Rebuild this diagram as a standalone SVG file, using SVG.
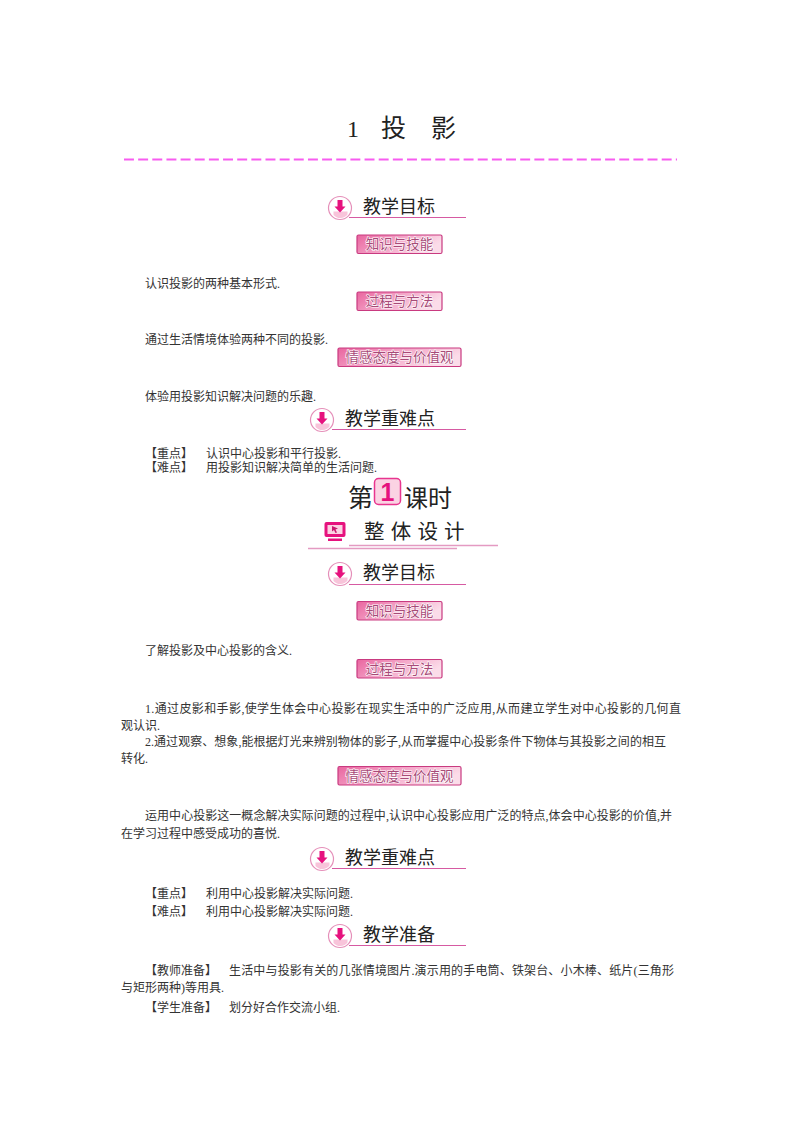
<svg xmlns="http://www.w3.org/2000/svg" xmlns:xlink="http://www.w3.org/1999/xlink" width="800" height="1132" viewBox="0 0 800 1132">
<style>
text{font-family:"Liberation Serif","Noto Sans CJK SC",serif;fill:#222}
.b{font-family:"Liberation Serif","Noto Sans CJK SC",sans-serif;font-size:12px;fill:#333;transform:translateY(.8px)}
.h{font-family:"Noto Sans CJK SC",sans-serif;font-size:18px;fill:#222;transform:translateY(1px)}
.c{font-family:"Noto Sans CJK SC",sans-serif}
.t{font-family:"Noto Sans CJK SC",sans-serif;font-size:13.500px;fill:#a84a78;text-anchor:middle;stroke:#fff;stroke-width:1.200px;paint-order:stroke}
.p{fill:url(#g);stroke:#c93a80;stroke-width:1.200}
.u{stroke:#d65aa2;stroke-width:1.200;fill:none}
</style>
<defs>
<linearGradient id="g" x1="0" y1="0" x2="1" y2=".35"><stop offset="0" stop-color="#e9659f"/><stop offset=".55" stop-color="#f4a9ca"/><stop offset="1" stop-color="#fbdce9"/></linearGradient>
<g id="ic">
<circle cx="12" cy="12" r="11.500" fill="#fff" stroke="#e58fb9" stroke-width="1.200"/>
<path d="M5.500 15.500h14v3a9 9 0 0 1-14 .5z" fill="#f8c4da"/>
<path d="M9.500 4h5v6.500h3l-5.500 6-5.500-6h3z" fill="#e6127e"/>
</g>
</defs>
<g id="title"><text x="347" y="137" font-size="24">1</text><text class="c" x="381" y="137" font-size="25">投</text><text class="c" x="431" y="137" font-size="25">影</text></g>
<path id="rule" d="M124 159.500H677" stroke="#f75cf0" stroke-width="1.800" stroke-dasharray="9.950 4.200" fill="none"/>

<g id="sec1"><use xlink:href="#ic" href="#ic" x="328" y="196"/><path class="u" d="M349 217.500H466"/><text class="h" x="363" y="212">教学目标</text></g>
<g id="tag1"><rect class="p" x="357" y="235" width="85" height="18.500" rx="1.500"/><text class="t" x="399.500" y="249">知识与技能</text></g>
<text class="b" id="p1" x="145" y="287">认识投影的两种基本形式.</text>
<g id="tag2"><rect class="p" x="357" y="292" width="85" height="18.500" rx="1.500"/><text class="t" x="399.500" y="306">过程与方法</text></g>
<text class="b" id="p2" x="145" y="343">通过生活情境体验两种不同的投影.</text>
<g id="tag3"><rect class="p" x="338" y="348" width="123" height="18.500" rx="1.500"/><text class="t" x="399.500" y="362">情感态度与价值观</text></g>
<text class="b" id="p3" x="145" y="400">体验用投影知识解决问题的乐趣.</text>
<g id="sec2"><use xlink:href="#ic" href="#ic" x="310" y="408"/><path class="u" d="M332 429.500H466"/><text class="h" x="345" y="424">教学重难点</text></g>
<g id="kp1"><text class="b" x="145" y="457">【重点】</text><text class="b" x="206" y="457">认识中心投影和平行投影.</text><text class="b" x="145" y="471">【难点】</text><text class="b" x="206" y="471">用投影知识解决简单的生活问题.</text></g>

<g id="lesson"><text class="c" x="348" y="507" font-size="25">第</text><rect x="374.500" y="478.500" width="26" height="26" rx="4" fill="#fbd3e3" stroke="#e8358f" stroke-width="1.500"/><text x="387.500" y="501" text-anchor="middle" style="font-family:'Liberation Sans',sans-serif;font-size:25px;font-weight:bold;fill:#e6127e">1</text><text class="c" x="404" y="507" font-size="24">课时</text></g>
<g id="design"><rect x="324.500" y="522" width="21" height="15" rx="2" fill="#e6127e"/><rect x="327.500" y="525" width="15" height="9" fill="#fbd3e3"/><path d="M332 526l6 2.500-2.500 1 1.500 3-1.500.5-1.500-3-2 1.500z" fill="#c9186f"/><rect x="328" y="538.500" width="14" height="2.500" fill="#e6127e"/><text class="c" x="364" y="539" font-size="20.500" letter-spacing="6.200">整体设计</text><path d="M349 545.500H498" stroke="#e49ac2" stroke-width="1.500"/><path d="M308 548.500H457" stroke="#e49ac2" stroke-width="1.500"/></g>

<g id="sec3"><use xlink:href="#ic" href="#ic" x="328" y="562"/><path class="u" d="M349 584.500H466"/><text class="h" x="363" y="578">教学目标</text></g>
<g id="tag4"><rect class="p" x="357" y="601.500" width="85" height="18.500" rx="1.500"/><text class="t" x="399.500" y="616">知识与技能</text></g>
<text class="b" id="p4" x="145" y="654">了解投影及中心投影的含义.</text>
<g id="tag5"><rect class="p" x="357" y="659.500" width="85" height="18.500" rx="1.500"/><text class="t" x="399.500" y="674">过程与方法</text></g>
<g id="p5"><text class="b" x="145" y="712" textLength="536">1.通过皮影和手影,使学生体会中心投影在现实生活中的广泛应用,从而建立学生对中心投影的几何直</text><text class="b" x="121" y="729">观认识.</text><text class="b" x="145" y="745" textLength="521">2.通过观察、想象,能根据灯光来辨别物体的影子,从而掌握中心投影条件下物体与其投影之间的相互</text><text class="b" x="121" y="762">转化.</text></g>
<g id="tag6"><rect class="p" x="338" y="766.500" width="123" height="18.500" rx="1.500"/><text class="t" x="399.500" y="781">情感态度与价值观</text></g>
<g id="p6"><text class="b" x="145" y="819" textLength="527">运用中心投影这一概念解决实际问题的过程中,认识中心投影应用广泛的特点,体会中心投影的价值,并</text><text class="b" x="121" y="837">在学习过程中感受成功的喜悦.</text></g>
<g id="sec4"><use xlink:href="#ic" href="#ic" x="310" y="847"/><path class="u" d="M332 868.500H466"/><text class="h" x="345" y="863">教学重难点</text></g>
<g id="kp2"><text class="b" x="145" y="897">【重点】</text><text class="b" x="206" y="897">利用中心投影解决实际问题.</text><text class="b" x="145" y="915">【难点】</text><text class="b" x="206" y="915">利用中心投影解决实际问题.</text></g>
<g id="sec5"><use xlink:href="#ic" href="#ic" x="328" y="924"/><path class="u" d="M349 945.500H466"/><text class="h" x="363" y="940">教学准备</text></g>
<g id="prep"><text class="b" x="145" y="974">【教师准备】</text><text class="b" x="229" y="974" textLength="445">生活中与投影有关的几张情境图片.演示用的手电筒、铁架台、小木棒、纸片(三角形</text><text class="b" x="121" y="991">与矩形两种)等用具.</text><text class="b" x="145" y="1011">【学生准备】</text><text class="b" x="229" y="1011">划分好合作交流小组.</text></g>
</svg>
